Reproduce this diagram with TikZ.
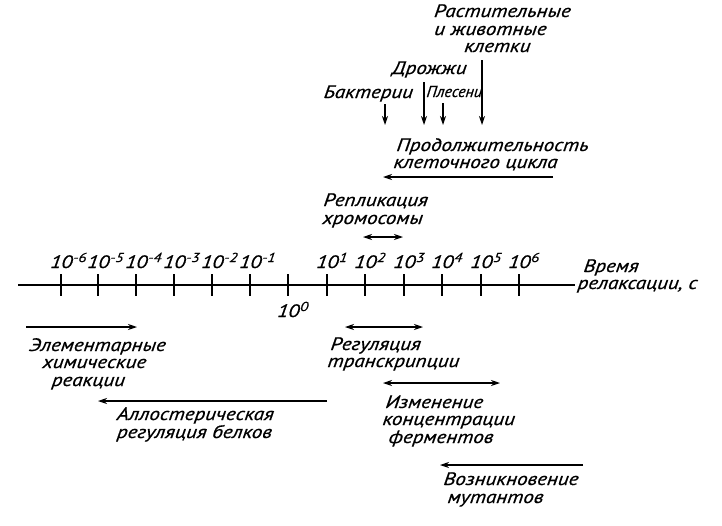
\documentclass[tikz,border=0pt]{standalone}
\usepackage{fontspec}
\setmainfont{PT Sans}
\newfontfamily\widefont{PT Sans}[FakeStretch=1.17, FakeBold=0.6, ItalicFeatures={FakeSlant=0.1}]
\newfontfamily\narrowfont{PT Sans}[FakeBold=0.6, ItalicFeatures={FakeSlant=0.1}]
\usetikzlibrary{arrows.meta}
\newcommand\pw[1]{10\rlap{\hspace{1pt}\raisebox{6pt}{\fontsize{13}{13}\selectfont #1}}}
\begin{document}
\begin{tikzpicture}[x=1pt,y=-1pt,
  txt/.style={inner sep=0pt, font=\widefont\itshape\fontsize{18}{18}\selectfont},
  narrow/.style={inner sep=0pt, font=\narrowfont\itshape\fontsize{16}{16}\selectfont},
  ln/.style={line width=1.1pt},
  arr/.style={line width=1.1pt, -{Stealth[length=9pt,width=6pt]}},
  darr/.style={line width=1.1pt, {Stealth[length=9pt,width=6pt]}-{Stealth[length=9pt,width=6pt]}}]
\useasboundingbox (0,0) rectangle (722,525);

% axis
\coordinate (ax0) at (18,285);
\coordinate (ax1) at (575,285);
\draw[ln] (ax0) -- (ax1);
\foreach \x/\n in {61/m6,98/m5,136/m4,174/m3,212/m2,250/m1,288/z,327/p1,365/p2,404/p3,442/p4,481/p5,519/p6}{
  \coordinate (t\n a) at (\x,274);
  \coordinate (t\n b) at (\x,296);
  \draw[ln] (t\n a) -- (t\n b);
}
\foreach \x/\n/\e in {61/m6/-6,98/m5/-5,136/m4/-4,174/m3/-3,212/m2/-2,250/m1/-1,327/p1/1,365/p2/2,404/p3/3,442/p4/4,481/p5/5,519/p6/6}{
  \node[txt, anchor=base] (l\n) at (\x,268) {\pw{\e}};
}
\node[txt, anchor=base] (lz) at (288,317) {\pw{0}};
\node[txt, anchor=base west] (vr1) at (583,272) {Время};
\node[txt, anchor=base west] (vr2) at (577,289) {релаксации, с};

% top group
\node[txt, anchor=base] (ra1) at (502,17) {Растительные};
\node[txt, anchor=base] (ra2) at (490,35) {и животные};
\node[txt, anchor=base] (ra3) at (497,52) {клетки};
\node[txt, anchor=base] (dr) at (429,74) {Дрожжи};
\node[txt, anchor=base] (ba) at (368,98) {Бактерии};
\node[narrow, anchor=base west] (pl) at (426,97) {Плесени};

\coordinate (rs) at (482,60);  \coordinate (re) at (482,125);
\coordinate (ds) at (424,82);  \coordinate (de) at (424,125);
\coordinate (bs) at (385,104); \coordinate (be) at (385,125);
\coordinate (ps) at (443,103); \coordinate (pe) at (443,125);
\draw[arr] (rs) -- (re);
\draw[arr] (ds) -- (de);
\draw[arr] (bs) -- (be);
\draw[arr] (ps) -- (pe);

\node[txt, anchor=base west] (pr1) at (396,151) {Продолжительность};
\node[txt, anchor=base west] (pr2) at (393,168) {клеточного цикла};
\coordinate (cs) at (553,177); \coordinate (ce) at (383,177);
\draw[arr] (cs) -- (ce);

\node[txt, anchor=base west] (rp1) at (323,206) {Репликация};
\node[txt, anchor=base west] (rp2) at (322,224) {хромосомы};
\coordinate (hs) at (363,237); \coordinate (he) at (403,237);
\draw[darr] (hs) -- (he);

% bottom left
\coordinate (es) at (26,327); \coordinate (ee) at (137,327);
\draw[arr] (es) -- (ee);
\node[txt, anchor=base] (el1) at (97,351) {Элементарные};
\node[txt, anchor=base] (el2) at (94,368) {химические};
\node[txt, anchor=base] (el3) at (88,386) {реакции};
\coordinate (as) at (327,401); \coordinate (ae) at (98,401);
\draw[arr] (as) -- (ae);
\node[txt, anchor=base] (al1) at (195,420) {Аллостерическая};
\node[txt, anchor=base] (al2) at (194,438) {регуляция белков};

% bottom right
\coordinate (ts) at (345,327); \coordinate (te) at (423,327);
\draw[darr] (ts) -- (te);
\node[txt, anchor=base west] (tr1) at (330,350) {Регуляция};
\node[txt, anchor=base west] (tr2) at (327,367) {транскрипции};
\coordinate (fs) at (383,383); \coordinate (fe) at (500,383);
\draw[darr] (fs) -- (fe);
\node[txt, anchor=base west] (iz1) at (385,408) {Изменение};
\node[txt, anchor=base west] (iz2) at (382,425) {концентрации};
\node[txt, anchor=base west] (iz3) at (388,443) {ферментов};
\coordinate (ms) at (583,465); \coordinate (me) at (440,465);
\draw[arr] (ms) -- (me);
\node[txt, anchor=base west] (vo1) at (443,485) {Возникновение};
\node[txt, anchor=base west] (vo2) at (447,503) {мутантов};
\end{tikzpicture}
\end{document}
